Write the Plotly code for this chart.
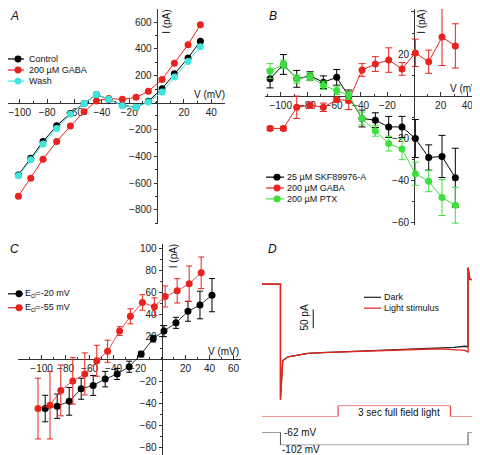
import plotly.graph_objects as go

W, H = 480, 455
FONT = "Arial, 'Liberation Sans', sans-serif"
RED = '#e8231e'
BLACK = '#000000'
CYAN = '#3fe6de'
GREEN = '#3ee03e'
GRAY = '#555555'
AX = '#333333'

# ---------------- Panel A data ----------------
A_V = [-101, -92, -83, -73, -63, -53, -44, -35, -25, -15, -6, 4, 13, 23, 32]
A_control = [-540, -415, -291, -173, -81, -7, 60, 24, -20, -35, 10, 104, 215, 333, 457]
A_gaba = [-699, -565, -422, -291, -175, -69, 12, 30, 24, 39, 84, 173, 294, 432, 580]
A_wash = [-546, -427, -309, -193, -87, -7, 61, 25, -24, -35, 5, 79, 190, 306, 417]
A_names = ['Control', '200 µM GABA', 'Wash']

# ---------------- Panel B data ----------------
B_V = [-108, -98, -88, -78, -68, -58, -49, -39, -29, -19, -9, 1, 11, 21, 31]
B_skf = [8.3, 15.1, 8.3, 9.7, 6.7, 9.0, 0.0, -10.5, -11.3, -14.5, -14.5, -20.0, -29.0, -28.5, -38.6]
B_skf_err = [4.3, 4.7, 4.0, 2.0, 3.0, 3.7, 3.0, 4.0, 3.5, 5.0, 5.0, 9.0, 6.0, 10.0, 14.0]
B_gaba = [-15.2, -15.2, -5.2, -4.2, -5.2, -1.6, -2.0, 12.5, 15.3, 17.2, 13.0, 20.6, 16.4, 28.1, 23.9]
B_gaba_err = [1.0, 1.0, 5.3, 1.5, 2.0, 1.0, 4.3, 3.0, 3.5, 5.8, 3.0, 6.5, 5.5, 13.5, 10.5]
B_ptx = [12.0, 15.1, 8.2, 9.4, 5.2, 2.8, 0.5, -10.5, -16.4, -22.4, -25.0, -36.7, -40.2, -48.0, -51.6]
B_ptx_err = [3.5, 2.0, 2.0, 2.0, 2.0, 2.0, 2.0, 3.0, 2.5, 3.5, 5.0, 5.5, 5.0, 8.5, 8.5]
B_names = ['25 µM SKF89976-A', '200 µM GABA', '200 µM PTX']

# ---------------- Panel C data ----------------
C_V20 = [-97, -87, -77, -67, -57, -47, -37, -27, -17, -7, 2, 12, 22, 32, 42]
C_I20 = [-44.7, -42.6, -38.2, -26.8, -23.8, -18.1, -13.4, -6.9, 4.5, 18.5, 25.3, 32.8, 43.2, 48.9, 57.8]
C_E20 = [12, 11, 12.5, 9.5, 9, 7, 5, 5, 2.5, 3, 5, 5, 9, 12.5, 15]
C_V55 = [-103, -93, -84, -74, -64, -54, -45, -35, -26, -16, -6, 3, 13, 23, 33]
C_I55 = [-44.7, -41.7, -28.3, -19.7, -13.4, -1.5, 7.1, 25.3, 38.7, 51.2, 47.4, 56.6, 61.7, 68.2, 78.0]
C_E55 = [27.5, 30.5, 23, 21, 19, 14, 10, 4, 6.8, 7, 8, 9.5, 11, 16, 14.3]
C_names = ['E<sub>cl</sub>=-20 mV', 'E<sub>cl</sub>=-55 mV']

# ---------------- Panel D data ----------------
D_t = [0, 0.49, 0.49, 0.55, 0.69, 0.95, 1.22, 1.6, 2.1, 2.6, 3.0, 3.42, 3.9, 4.3, 4.75, 5.1, 5.38, 5.47, 5.47, 5.52, 5.7, 6.0]
D_dark = [0, 0, -307, -203, -193, -189, -184, -182, -180, -178, -177, -176, -174, -173, -171, -168, -165, -166, 44, 13, 11, 9]
D_light = [0, 0, -307, -203, -193, -189, -184, -182, -180, -178, -177, -176, -174, -173, -172, -174, -176, -180, 44, 13, 11, 9]
D_stim_t = [0, 2.02, 2.02, 5.0, 5.0, 6.0]
D_stim = [0, 0, 1, 1, 0, 0]
D_volt_t = [0, 0.49, 0.49, 5.47, 5.47, 6.0]
D_volt = [-62, -62, -102, -102, -62, -62]
D_names = ['Dark', 'Light stimulus']
SCALE_PA = 50


def px_x(p):
    return p / W


def px_y(p):
    return 1 - p / H


fig = go.Figure()


def add_series(x, y, color, xa, ya, err=None, lw=1.0, ms=7, capw=3):
    tr = go.Scatter(x=x, y=y, mode='lines+markers', xaxis=xa, yaxis=ya,
                    line=dict(color=color, width=lw),
                    marker=dict(color=color, size=ms, line=dict(width=0)),
                    showlegend=False, cliponaxis=False)
    if err is not None:
        tr.error_y = dict(type='data', array=err, visible=True, color=color,
                          thickness=1, width=capw)
    fig.add_trace(tr)


# A
add_series(A_V, A_control, BLACK, 'x', 'y')
add_series(A_V, A_gaba, RED, 'x', 'y')
add_series(A_V, A_wash, CYAN, 'x', 'y')
# B
add_series(B_V, B_skf, BLACK, 'x2', 'y2', B_skf_err, capw=3.5)
add_series(B_V, B_gaba, RED, 'x2', 'y2', B_gaba_err, capw=3.5)
add_series(B_V, B_ptx, GREEN, 'x2', 'y2', B_ptx_err, capw=3.5)
# C
add_series(C_V20, C_I20, BLACK, 'x3', 'y3', C_E20, lw=0.8, capw=3)
add_series(C_V55, C_I55, RED, 'x3', 'y3', C_E55, lw=0.8, capw=3)
# D
fig.add_trace(go.Scatter(x=D_t, y=D_dark, mode='lines', xaxis='x4', yaxis='y4',
                         line=dict(color='#222222', width=1.3), showlegend=False))
fig.add_trace(go.Scatter(x=D_t, y=D_light, mode='lines', xaxis='x4', yaxis='y4',
                         line=dict(color=RED, width=1.3), showlegend=False))
fig.add_trace(go.Scatter(x=D_stim_t, y=D_stim, mode='lines', xaxis='x4', yaxis='y5',
                         line=dict(color=RED, width=1), showlegend=False))
fig.add_trace(go.Scatter(x=D_volt_t, y=D_volt, mode='lines', xaxis='x4', yaxis='y6',
                         line=dict(color=GRAY, width=1), showlegend=False))


def cross(xdom, ydom, xr, yr, xt, yt, xminor, yminor):
    xpos = xdom[0] + (0 - xr[0]) / (xr[1] - xr[0]) * (xdom[1] - xdom[0])
    ypos = ydom[0] + (0 - yr[0]) / (yr[1] - yr[0]) * (ydom[1] - ydom[0])
    common = dict(showline=True, linecolor=AX, linewidth=1, tickcolor=AX,
                  showgrid=False, zeroline=False, anchor='free',
                  tickfont=dict(size=10, color='#222222', family=FONT),
                  layer='below traces')
    xa = dict(common, domain=xdom, range=xr, position=ypos, ticks='inside', ticklen=4,
              tickvals=xt, minor=dict(ticks='inside', ticklen=2, dtick=xminor, tickcolor=AX, showgrid=False))
    ya = dict(common, domain=ydom, range=yr, position=xpos, ticks='outside', ticklen=3,
              tickvals=yt, minor=dict(ticks='outside', ticklen=2, dtick=yminor, tickcolor=AX, showgrid=False))
    return xa, ya


xa1, ya1 = cross([px_x(0), px_x(217)], [px_y(217), px_y(0)], [-108.6, 50], [-903, 698],
                 [-100, -80, -60, -40, -20, 20, 40], [-800, -600, -400, -200, 200, 400, 600], 10, 100)
xa2, ya2 = cross([px_x(257), px_x(472)], [px_y(218), px_y(0)], [-111.8, 49.5], [-60.8, 41.4],
                 [-100, -80, -60, -40, -20, 20, 40], [-60, -40, -20, 20, 40], 10, 10)
xa3, ya3 = cross([px_x(9.6), px_x(233)], [px_y(455), px_y(238)], [-120, 66.2], [-90.3, 103.7],
                 [-120, -100, -80, -60, -40, -20, 20, 40, 60], [-80, -60, -40, -20, 20, 40, 60, 80, 100], 10, 10)

hidden = dict(visible=False, showgrid=False, zeroline=False)
fig.update_layout(
    width=W, height=H, margin=dict(l=0, r=0, t=0, b=0),
    paper_bgcolor='white', plot_bgcolor='white',
    font=dict(family=FONT, size=10, color='#111111'),
    showlegend=False,
    xaxis=xa1, yaxis=ya1, xaxis2=xa2, yaxis2=ya2, xaxis3=xa3, yaxis3=ya3,
    xaxis4=dict(hidden, domain=[px_x(254), 1], range=[0, 6], anchor='y4'),
    yaxis4=dict(hidden, domain=[px_y(400), px_y(255)], range=[-320.3, 61.3], anchor='x4'),
    yaxis5=dict(hidden, domain=[px_y(412), px_y(401)], range=[0, 1], anchor='x4'),
    yaxis6=dict(hidden, domain=[px_y(441), px_y(428)], range=[-102, -62], anchor='x4'),
)

shapes = []
annotations = []


def ann(text, x, y, size=10, xanchor='center', angle=0, italic=False):
    if italic:
        text = '<i>' + text + '</i>'
    annotations.append(dict(text=text, x=px_x(x), y=px_y(y), xref='paper', yref='paper',
                            showarrow=False, xanchor=xanchor, yanchor='middle', borderpad=0,
                            font=dict(size=size, color='#111111', family=FONT), textangle=angle))


def legend(names, colors, rows, lx0, lx1, mx, tx, markers=True):
    for name, c, r in zip(names, colors, rows):
        shapes.append(dict(type='line', xref='paper', yref='paper', x0=px_x(lx0), x1=px_x(lx1),
                           y0=px_y(r), y1=px_y(r), line=dict(color=c, width=1.2)))
        if markers:
            rr = 3.5
            shapes.append(dict(type='circle', xref='paper', yref='paper',
                               x0=px_x(mx - rr), x1=px_x(mx + rr), y0=px_y(r + rr), y1=px_y(r - rr),
                               fillcolor=c, line=dict(width=0)))
        ann(name, tx, r, size=9, xanchor='left')


legend(A_names, [BLACK, RED, CYAN], [50.5, 61.7, 72.9], 0, 16, 10, 20)
legend(B_names, [BLACK, RED, GREEN], [170, 181, 192], 258, 276, 269, 278)
legend(C_names, [BLACK, RED], [288, 302], 0, 15, 11, 16)
legend(D_names, ['#222222', RED], [291.5, 302.5], 356, 373, 0, 375, markers=False)

# panel letters
ann('A', 6, 7, size=12, italic=True)
ann('B', 265, 7, size=12, italic=True)
ann('C', 6, 243, size=12, italic=True)
ann('D', 264, 243, size=12, italic=True)

# axis titles
ann('V (mV)', 201, 86)
ann('I (pA)', 159, 13, angle=-90)
ann('V (mV)', 457, 80)
ann('I (pA)', 414, 13, angle=-90)
ann('V (mV)', 215, 346)
ann('I (pA)', 165, 250, angle=-90)

# panel D labels
ann('3 sec full field light', 391, 408)
ann('-62 mV', 275, 428, xanchor='left')
ann('-102 mV', 273, 445, xanchor='left')
ann(f'{SCALE_PA} pA', 297, 312, angle=-90)

# scale bar
shapes.append(dict(type='line', xref='x4', yref='y4', x0=1.36, x1=1.36, y0=-67, y1=-67 - SCALE_PA,
                   line=dict(color='#111111', width=1)))

fig.update_layout(shapes=shapes, annotations=annotations)
fig.write_html('out.html')
